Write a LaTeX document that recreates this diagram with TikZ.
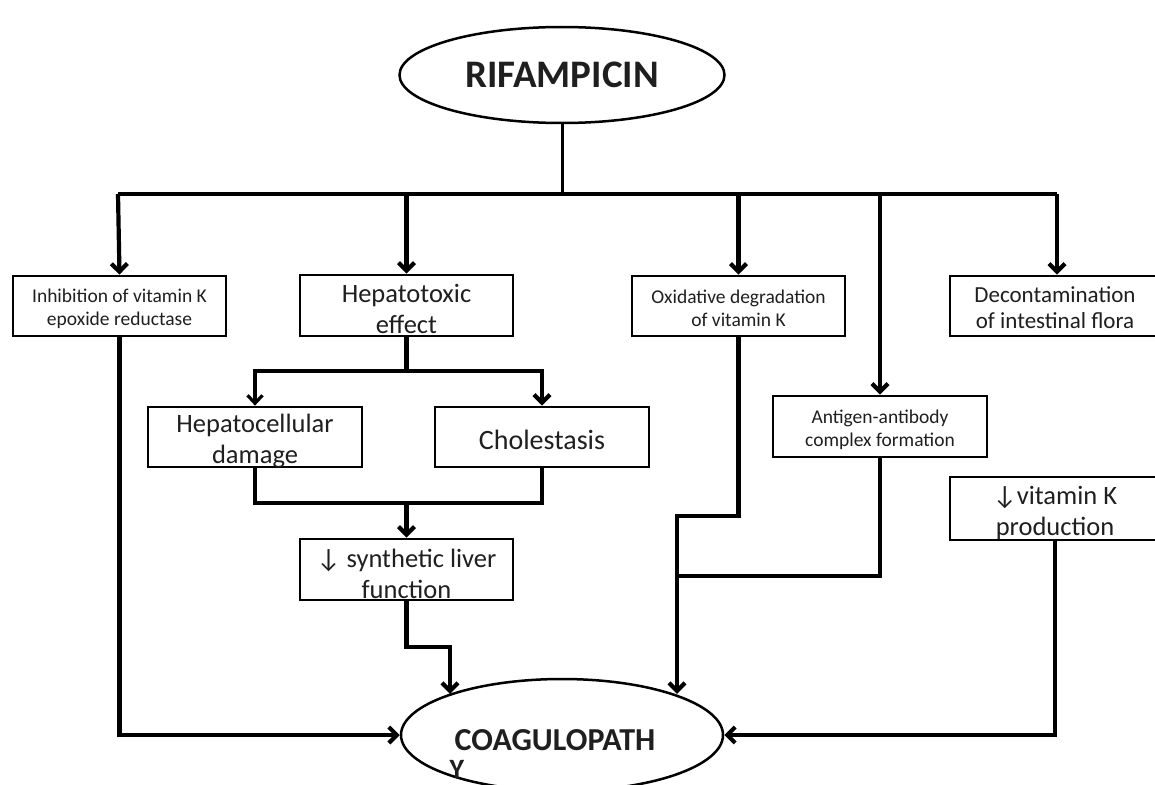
\documentclass[tikz,border=0pt]{standalone}
\usepackage{fontspec}
\setmainfont{Carlito}
\usetikzlibrary{arrows.meta,shapes.geometric,calc}
\begin{document}
\begin{tikzpicture}[x=1pt,y=-1pt,
  box/.style={draw=black,line width=2.8pt,rectangle,inner sep=0pt,
    minimum width=213pt,minimum height=60pt},
  txt/.style={inner sep=0pt,align=center,text=black!88},
  small/.style={txt,font=\fontsize{19.5}{23}\selectfont},
  big/.style={txt,font=\fontsize{26.5}{31}\selectfont},
  oval/.style={draw=black,line width=2.5pt,ellipse,inner sep=0pt,text=black!88},
  conn/.style={line width=4.2pt,draw=black,line join=miter},
  arr/.style={conn,-{Straight Barb[length=8pt,width=16pt]}},
]
\useasboundingbox[fill=white] (0,0) rectangle (1155,784);

% ovals
\node[oval,minimum width=325pt,minimum height=96pt,font=\fontsize{39}{44}\selectfont\bfseries] (rif) at (562,75) {RIFAMPICIN};
\node[oval,minimum width=322pt,minimum height=112pt] (coag) at (562,735) {};
\node[txt,font=\fontsize{32}{36}\selectfont\bfseries] (coagtxt) at (555,740) {COAGULOPATH};
\node[inner sep=0pt,text=black!88,font=\fontsize{28}{30}\selectfont\bfseries,anchor=base] (ytxt) at (457,778) {Y};

% boxes
\node[box] (inh) at (119.5,306) {};
\node[box,minimum height=61pt] (hep) at (406.5,305.5) {};
\node[box] (oxi) at (738.5,306) {};
\node[box,minimum width=210pt] (dec) at (1055,306) {};
\node[box,minimum width=214pt,minimum height=61pt] (ant) at (880,426.5) {};
\node[box,minimum width=210pt,minimum height=63pt] (vit) at (1055,508.5) {};
\node[box,minimum width=214pt] (hcd) at (255,437) {};
\node[box,minimum width=214pt] (cho) at (542,437) {};
\node[box,minimum height=61pt] (syn) at (406.5,569.5) {};

% texts
\node[small] (inhT) at ([yshift=-2.5pt]inh.center) {Inhibition of vitamin K\\epoxide reductase};
\node[big] (hepT) at ([yshift=-3.5pt]hep.center) {Hepatotoxic\\effect};
\node[small] (oxiT) at ([yshift=-2.5pt]oxi.center) {Oxidative degradation\\of vitamin K};
\node[txt,font=\fontsize{23}{26}\selectfont] (decT) at ([yshift=-2pt]dec.center) {Decontamination\\of intestinal flora};
\node[small] (antT) at ([yshift=-3pt]ant.center) {Antigen-antibody\\complex formation};
\node[big] (vitT) at ([yshift=-4.5pt]vit.center) {↓vitamin K\\production};
\node[big] (hcdT) at ([yshift=-4pt]hcd.center) {Hepatocellular\\damage};
\node[txt,font=\fontsize{28}{32}\selectfont] (choT) at ([yshift=-3pt]cho.center) {Cholestasis};
\node[big] (synT) at ([yshift=-4.5pt]syn.center) {↓ synthetic liver\\function};

% top distribution
\coordinate (bus) at (562,194);
\coordinate (busL) at (118,194);
\coordinate (busR) at (1057,194);
\draw[line width=3pt] (rif.south) -- (bus);
\draw[conn] (busL) -- (busR);
\draw[arr] (busL) -- (inh.north);
\draw[arr] (hep.north |- bus) -- (hep.north);
\draw[arr] (oxi.north |- bus) -- (oxi.north);
\draw[arr] (ant.north |- bus) -- (ant.north);
\draw[arr] (busR) -- (busR |- dec.north);

% hepatotoxic branch
\coordinate (split) at (406.5,371);
\draw[conn] (hep.south) -- (split);
\draw[line width=3.2pt,-{Straight Barb[length=8pt,width=15pt]}] (split) -| (hcd.north);
\draw[arr] (split) -| (cho.north);
\coordinate (merge) at (406.5,503);
\draw[line width=3.2pt] (hcd.south) |- (merge);
\draw[conn] (merge) -| (cho.south);
\draw[arr] (merge) -- (syn.north);

% into coagulopathy
\coordinate (c1) at (450,647);
\draw[arr] (syn.south) |- (c1) -- (c1 |- coag.160);
\draw[arr] (inh.south) |- (coag.west);
\coordinate (c2) at (677,516);
\coordinate (c3) at (677,576);
\draw[conn] (oxi.south) |- (c2) -- (c3);
\draw[conn] (ant.south) |- (c3);
\draw[arr] (c3) -- (c3 |- coag.20);
\draw[arr] (vit.south) |- (coag.east);
\end{tikzpicture}
\end{document}
